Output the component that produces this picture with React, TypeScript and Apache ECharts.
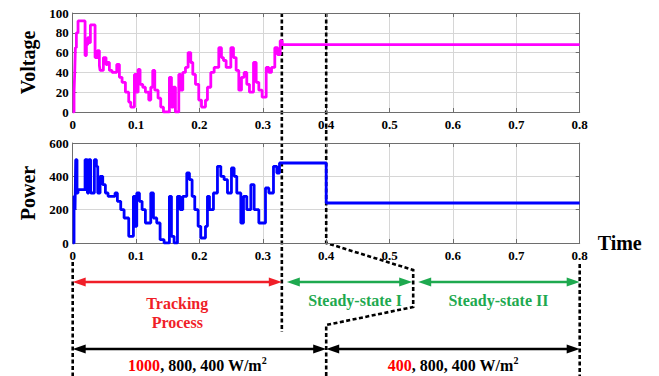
import React, { useEffect, useRef } from "react";
import * as echarts from "echarts";

// ---------- data ----------
const timeTicks = [0, 0.1, 0.2, 0.3, 0.4, 0.5, 0.6, 0.7, 0.8];

const voltageTime = [
  0, 0.0021, 0.0032, 0.0042, 0.0058, 0.0084, 0.0195, 0.0216, 0.0237, 0.0263, 0.0279,
  0.0353, 0.0389, 0.0421, 0.0432, 0.0484, 0.0526, 0.0547, 0.0579, 0.0621, 0.0695,
  0.0737, 0.0779, 0.0832, 0.0884, 0.0916, 0.0974, 0.1005, 0.1032, 0.1063, 0.1105,
  0.1147, 0.12, 0.1232, 0.1263, 0.1295, 0.1347, 0.1389, 0.1432, 0.1526, 0.1558,
  0.1589, 0.1621, 0.1674, 0.1705, 0.1737, 0.1779, 0.1821, 0.1863, 0.1895, 0.1937,
  0.1989, 0.2032, 0.2095, 0.2126, 0.2179, 0.2232, 0.2305, 0.2347, 0.2379, 0.2421,
  0.2495, 0.2537, 0.2579, 0.2621, 0.2663, 0.2705, 0.2747, 0.2789, 0.2853, 0.2895,
  0.2937, 0.2989, 0.3053, 0.3095, 0.3137, 0.3189, 0.3232, 0.3274, 0.3305, 0.8,
];
const voltageValue = [
  0, 20, 40, 65, 80, 92, 57, 68, 75, 70, 88,
  55, 62, 47, 42, 55, 48, 50, 42, 40, 48,
  35, 30, 20, 10, 5, 38, 20, 43, 28, 25,
  20, 12, 25, 42, 22, 14, 5, 0, 35, 5,
  25, 0, 38, 22, 40, 45, 60, 50, 38, 28,
  12, 5, 12, 25, 40, 45, 65, 55, 52, 45,
  65, 55, 42, 22, 35, 40, 28, 20, 50, 30,
  22, 15, 45, 40, 45, 65, 58, 72, 68, 68,
];

const powerTime = [
  0, 0.0021, 0.0037, 0.0047, 0.0068, 0.0084, 0.0195, 0.0232, 0.0253, 0.0284, 0.0342,
  0.0374, 0.0395, 0.0432, 0.0474, 0.0516, 0.0558, 0.0668, 0.0705, 0.0758, 0.0811,
  0.0884, 0.0958, 0.0984, 0.1011, 0.1053, 0.1095, 0.1147, 0.1232, 0.1274, 0.1326,
  0.1379, 0.1442, 0.1526, 0.1558, 0.16, 0.1653, 0.1695, 0.1737, 0.18, 0.1842,
  0.1884, 0.1926, 0.1979, 0.2021, 0.2095, 0.2126, 0.2158, 0.2221, 0.2284, 0.2337,
  0.2389, 0.2442, 0.2505, 0.2547, 0.2589, 0.2653, 0.2695, 0.2747, 0.2811, 0.2863,
  0.2937, 0.3042, 0.3095, 0.3168, 0.3221, 0.3263, 0.4, 0.8,
];
const powerValue = [
  0, 280, 200, 500, 300, 320, 500, 300, 500, 300, 500,
  460, 300, 400, 350, 300, 280, 300, 250, 200, 150,
  40, 280, 100, 300, 250, 200, 120, 300, 150, 120,
  20, 0, 280, 40, 0, 280, 200, 280, 420, 380,
  280, 200, 100, 30, 100, 280, 200, 300, 460, 400,
  380, 300, 450, 400, 300, 120, 280, 200, 350, 200,
  120, 330, 300, 460, 420, 480, 240, 240,
];

// phase boundaries (time)
const trackingEnd = 0.33;
const irradianceChange = 0.4;
const simEnd = 0.8;

const phaseLabels = ["Tracking", "Process", "Steady-state I", "Steady-state II"];
const irradiance1 = ["1000", ", 800, 400 W/m"];
const irradiance2 = ["400", ", 800, 400 W/m"];

// ---------- style ----------
const FONT = "Liberation Serif, Times New Roman, serif";
const AXIS_COLOR = "#6e6e6e";
const GRID_COLOR = "#d6d6d6";
const RED = "#f01e28";
const GREEN = "#1ea94f";

function xAxes(gridIndex: number) {
  return [
    {
      gridIndex,
      type: "value",
      min: 0,
      max: 0.8,
      interval: 0.1,
      position: "bottom",
      axisLine: { show: true, onZero: false, lineStyle: { color: AXIS_COLOR, width: 1 } },
      axisTick: { show: true, inside: true, length: 4, lineStyle: { color: AXIS_COLOR } },
      axisLabel: {
        color: "#000",
        fontFamily: FONT,
        fontWeight: "bold",
        fontSize: 13,
        margin: 6,
        formatter: (v: number) => (Math.abs(v) < 1e-9 ? "0" : v.toFixed(1)),
      },
      splitLine: { show: true, lineStyle: { color: GRID_COLOR, width: 1 } },
    },
    {
      gridIndex,
      type: "value",
      min: 0,
      max: 0.8,
      interval: 0.1,
      position: "top",
      axisLine: { show: true, onZero: false, lineStyle: { color: AXIS_COLOR, width: 1 } },
      axisTick: { show: true, inside: true, length: 4, lineStyle: { color: AXIS_COLOR } },
      axisLabel: { show: false },
      splitLine: { show: false },
    },
  ];
}

function yAxes(gridIndex: number, max: number, interval: number) {
  return [
    {
      gridIndex,
      type: "value",
      min: 0,
      max,
      interval,
      position: "left",
      axisLine: { show: true, onZero: false, lineStyle: { color: AXIS_COLOR, width: 1 } },
      axisTick: { show: true, inside: true, length: 4, lineStyle: { color: AXIS_COLOR } },
      axisLabel: { color: "#000", fontFamily: FONT, fontWeight: "bold", fontSize: 13, margin: 4 },
      splitLine: { show: true, lineStyle: { color: GRID_COLOR, width: 1 } },
    },
    {
      gridIndex,
      type: "value",
      min: 0,
      max,
      interval,
      position: "right",
      axisLine: { show: true, onZero: false, lineStyle: { color: AXIS_COLOR, width: 1 } },
      axisTick: { show: true, inside: true, length: 4, lineStyle: { color: AXIS_COLOR } },
      axisLabel: { show: false },
      splitLine: { show: false },
    },
  ];
}

function hArrow(x1: number, x2: number, y: number, color: string) {
  const L = 13;
  const H = 4.5;
  return [
    { type: "line", shape: { x1: x1 + L - 1, y1: y, x2: x2 - L + 1, y2: y }, style: { stroke: color, lineWidth: 2.5 }, silent: true },
    { type: "polygon", shape: { points: [[x1, y], [x1 + L, y - H], [x1 + L, y + H]] }, style: { fill: color }, silent: true },
    { type: "polygon", shape: { points: [[x2, y], [x2 - L, y - H], [x2 - L, y + H]] }, style: { fill: color }, silent: true },
  ];
}

const dashStyle = { stroke: "#000", lineWidth: 2.6, lineDash: [4, 2.5], fill: null };

export default function App() {
  const ref = useRef<HTMLDivElement>(null);

  useEffect(() => {
    if (!ref.current) return;
    const chart = echarts.init(ref.current, undefined, { renderer: "svg" });
    chart.setOption({
      animation: false,
      backgroundColor: "#fff",
      grid: [
        { left: 72.7, top: 13, width: 507, height: 99 },
        { left: 72.7, top: 143, width: 507, height: 100 },
      ],
      xAxis: [...xAxes(0), ...xAxes(1)],
      yAxis: [...yAxes(0, 100, 20), ...yAxes(1, 600, 200)],
      series: [
        {
          type: "line",
          xAxisIndex: 0,
          yAxisIndex: 0,
          step: "end",
          showSymbol: false,
          silent: true,
          data: voltageTime.map((t, i) => [t, voltageValue[i]]),
          lineStyle: { color: "#ff00ff", width: 2.8 },
        },
        {
          type: "line",
          xAxisIndex: 2,
          yAxisIndex: 2,
          step: "end",
          showSymbol: false,
          silent: true,
          data: powerTime.map((t, i) => [t, powerValue[i]]),
          lineStyle: { color: "#0000ff", width: 2.8 },
        },
      ],
    });

    const px = (t: number, g: number) => chart.convertToPixel({ gridIndex: g }, [t, 0]) as number[];
    const x0 = px(0, 1)[0];
    const xT = px(trackingEnd, 1)[0];
    const xC = px(irradianceChange, 1)[0];
    const xE = px(simEnd, 1)[0];
    const topY = chart.convertToPixel({ gridIndex: 0 }, [0, 100])[1];
    const g0Bottom = px(0, 0)[1];
    const g1Bottom = px(0, 1)[1];
    const g0Mid = (topY + g0Bottom) / 2;
    const g1Top = chart.convertToPixel({ gridIndex: 1 }, [0, 600])[1];
    const g1Mid = (g1Top + g1Bottom) / 2;
    const jogX = xC + 87;

    const arrowY = 282;
    const blackY = 349;

    const titleFont = `bold 20px ${FONT}`;
    const annFont = `bold 16px ${FONT}`;

    const graphic: any[] = [
      // y axis titles
      { type: "text", x: 28, y: g0Mid, rotation: Math.PI / 2, style: { text: "Voltage", font: titleFont, fill: "#000", align: "center", verticalAlign: "middle" } },
      { type: "text", x: 28, y: g1Mid, rotation: Math.PI / 2, style: { text: "Power", font: titleFont, fill: "#000", align: "center", verticalAlign: "middle" } },
      { type: "text", x: xE + 40, y: g1Bottom, style: { text: "Time", font: titleFont, fill: "#000", align: "center", verticalAlign: "middle" } },
      // dashed lines
      { type: "line", shape: { x1: xT, y1: topY, x2: xT, y2: 332 }, style: dashStyle, silent: true },
      { type: "polyline", shape: { points: [[xC, topY], [xC, g1Bottom], [jogX, 270], [jogX, 307], [xC, 325], [xC, 376]] }, style: dashStyle, silent: true },
      { type: "line", shape: { x1: x0, y1: 262, x2: x0, y2: 376 }, style: dashStyle, silent: true },
      { type: "line", shape: { x1: xE, y1: 264, x2: xE, y2: 376 }, style: dashStyle, silent: true },
      // arrows
      ...hArrow(x0, xT, arrowY, RED),
      ...hArrow(xT + 5, jogX - 1, arrowY, GREEN),
      ...hArrow(jogX + 5, xE, arrowY, GREEN),
      ...hArrow(x0, xC, blackY, "#000"),
      ...hArrow(xC, xE, blackY, "#000"),
      // labels
      { type: "text", x: (x0 + xT) / 2, y: 303, style: { text: phaseLabels[0], font: annFont, fill: RED, align: "center", verticalAlign: "middle" } },
      { type: "text", x: (x0 + xT) / 2, y: 322, style: { text: phaseLabels[1], font: annFont, fill: RED, align: "center", verticalAlign: "middle" } },
      { type: "text", x: 355, y: 300, style: { text: phaseLabels[2], font: annFont, fill: GREEN, align: "center", verticalAlign: "middle" } },
      { type: "text", x: (jogX + xE) / 2 + 2, y: 300, style: { text: phaseLabels[3], font: annFont, fill: GREEN, align: "center", verticalAlign: "middle" } },
      {
        type: "text",
        x: (x0 + xC) / 2 - 2,
        y: 365,
        style: {
          text: `{r|${irradiance1[0]}}{b|${irradiance1[1]}}{s|2}`,
          align: "center",
          verticalAlign: "middle",
          rich: {
            r: { font: annFont, fill: "#f00", color: "#f00" },
            b: { font: annFont, fill: "#000", color: "#000" },
            s: { font: `bold 10px ${FONT}`, fill: "#000", color: "#000", padding: [0, 0, 9, 0] },
          },
        },
      },
      {
        type: "text",
        x: 453,
        y: 365,
        style: {
          text: `{r|${irradiance2[0]}}{b|${irradiance2[1]}}{s|2}`,
          align: "center",
          verticalAlign: "middle",
          rich: {
            r: { font: annFont, fill: "#f00", color: "#f00" },
            b: { font: annFont, fill: "#000", color: "#000" },
            s: { font: `bold 10px ${FONT}`, fill: "#000", color: "#000", padding: [0, 0, 9, 0] },
          },
        },
      },
    ];
    chart.setOption({ graphic });

    return () => chart.dispose();
  }, []);

  return (
    <div
      ref={ref}
      style={{ position: "absolute", left: 0, top: 0, width: 659, height: 376, background: "#fff" }}
    />
  );
}
